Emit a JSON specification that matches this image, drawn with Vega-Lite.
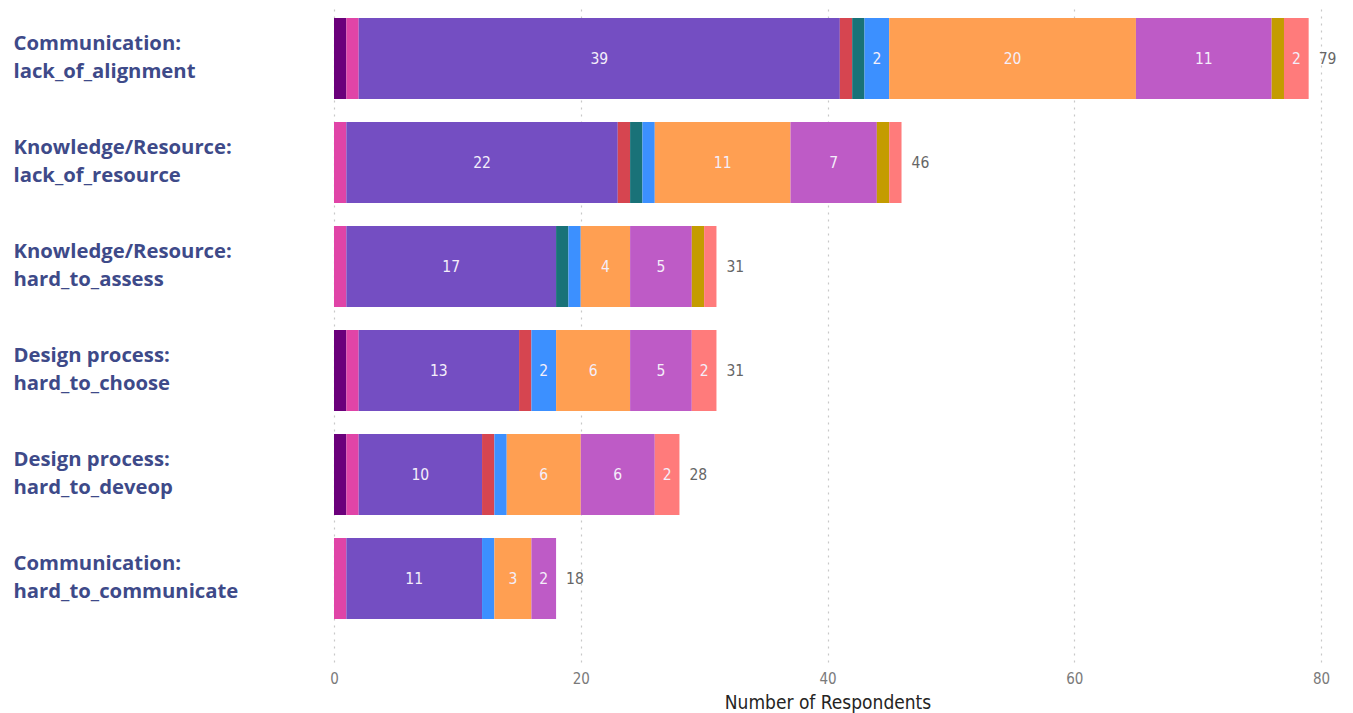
{
  "$schema": "https://vega.github.io/schema/vega-lite/v6.json",
  "width": 987,
  "height": 654,
  "padding": {"left": 13, "top": 8, "right": 5, "bottom": 5},
  "autosize": {"type": "pad"},
  "background": "white",
  "config": {"view": {"stroke": null}},
  "data": {
    "values": [
      {"issue": "Communication: lack_of_alignment", "segment": "A", "n": 1},
      {"issue": "Communication: lack_of_alignment", "segment": "B", "n": 1},
      {"issue": "Communication: lack_of_alignment", "segment": "C", "n": 39},
      {"issue": "Communication: lack_of_alignment", "segment": "D", "n": 1},
      {"issue": "Communication: lack_of_alignment", "segment": "E", "n": 1},
      {"issue": "Communication: lack_of_alignment", "segment": "F", "n": 2},
      {"issue": "Communication: lack_of_alignment", "segment": "G", "n": 20},
      {"issue": "Communication: lack_of_alignment", "segment": "H", "n": 11},
      {"issue": "Communication: lack_of_alignment", "segment": "I", "n": 1},
      {"issue": "Communication: lack_of_alignment", "segment": "J", "n": 2},
      {"issue": "Knowledge/Resource: lack_of_resource", "segment": "B", "n": 1},
      {"issue": "Knowledge/Resource: lack_of_resource", "segment": "C", "n": 22},
      {"issue": "Knowledge/Resource: lack_of_resource", "segment": "D", "n": 1},
      {"issue": "Knowledge/Resource: lack_of_resource", "segment": "E", "n": 1},
      {"issue": "Knowledge/Resource: lack_of_resource", "segment": "F", "n": 1},
      {"issue": "Knowledge/Resource: lack_of_resource", "segment": "G", "n": 11},
      {"issue": "Knowledge/Resource: lack_of_resource", "segment": "H", "n": 7},
      {"issue": "Knowledge/Resource: lack_of_resource", "segment": "I", "n": 1},
      {"issue": "Knowledge/Resource: lack_of_resource", "segment": "J", "n": 1},
      {"issue": "Knowledge/Resource: hard_to_assess", "segment": "B", "n": 1},
      {"issue": "Knowledge/Resource: hard_to_assess", "segment": "C", "n": 17},
      {"issue": "Knowledge/Resource: hard_to_assess", "segment": "E", "n": 1},
      {"issue": "Knowledge/Resource: hard_to_assess", "segment": "F", "n": 1},
      {"issue": "Knowledge/Resource: hard_to_assess", "segment": "G", "n": 4},
      {"issue": "Knowledge/Resource: hard_to_assess", "segment": "H", "n": 5},
      {"issue": "Knowledge/Resource: hard_to_assess", "segment": "I", "n": 1},
      {"issue": "Knowledge/Resource: hard_to_assess", "segment": "J", "n": 1},
      {"issue": "Design process: hard_to_choose", "segment": "A", "n": 1},
      {"issue": "Design process: hard_to_choose", "segment": "B", "n": 1},
      {"issue": "Design process: hard_to_choose", "segment": "C", "n": 13},
      {"issue": "Design process: hard_to_choose", "segment": "D", "n": 1},
      {"issue": "Design process: hard_to_choose", "segment": "F", "n": 2},
      {"issue": "Design process: hard_to_choose", "segment": "G", "n": 6},
      {"issue": "Design process: hard_to_choose", "segment": "H", "n": 5},
      {"issue": "Design process: hard_to_choose", "segment": "J", "n": 2},
      {"issue": "Design process: hard_to_deveop", "segment": "A", "n": 1},
      {"issue": "Design process: hard_to_deveop", "segment": "B", "n": 1},
      {"issue": "Design process: hard_to_deveop", "segment": "C", "n": 10},
      {"issue": "Design process: hard_to_deveop", "segment": "D", "n": 1},
      {"issue": "Design process: hard_to_deveop", "segment": "F", "n": 1},
      {"issue": "Design process: hard_to_deveop", "segment": "G", "n": 6},
      {"issue": "Design process: hard_to_deveop", "segment": "H", "n": 6},
      {"issue": "Design process: hard_to_deveop", "segment": "J", "n": 2},
      {"issue": "Communication: hard_to_communicate", "segment": "B", "n": 1},
      {"issue": "Communication: hard_to_communicate", "segment": "C", "n": 11},
      {"issue": "Communication: hard_to_communicate", "segment": "F", "n": 1},
      {"issue": "Communication: hard_to_communicate", "segment": "G", "n": 3},
      {"issue": "Communication: hard_to_communicate", "segment": "H", "n": 2}
    ]
  },
  "encoding": {
    "y": {
      "field": "issue",
      "type": "nominal",
      "sort": [
        "Communication: lack_of_alignment",
        "Knowledge/Resource: lack_of_resource",
        "Knowledge/Resource: hard_to_assess",
        "Design process: hard_to_choose",
        "Design process: hard_to_deveop",
        "Communication: hard_to_communicate"
      ],
      "scale": {"paddingInner": 0.221, "paddingOuter": 0.2546, "align": 0.19},
      "axis": {
        "title": null,
        "domain": false,
        "ticks": false,
        "tickSize": 0,
        "labelAlign": "left",
        "labelBaseline": "middle",
        "labelOffset": -15,
        "labelPadding": 321,
        "labelLimit": 320,
        "labelFont": "Open Sans",
        "labelFontWeight": 700,
        "labelFontSize": 20.3,
        "labelColor": "#3E4A89",
        "labelLineHeight": 28,
        "labelExpr": "[split(datum.value, ': ')[0] + ':', split(datum.value, ': ')[1]]"
      }
    }
  },
  "layer": [
    {
      "mark": {"type": "bar"},
      "encoding": {
        "x": {
          "field": "n",
          "type": "quantitative",
          "stack": "zero",
          "scale": {"domain": [0, 80], "nice": false},
          "axis": {
            "values": [0, 20, 40, 60, 80],
            "grid": true,
            "gridDash": [2, 5],
            "gridColor": "#C8C8C8",
            "gridWidth": 1.2,
            "domain": false,
            "ticks": false,
            "tickSize": 0,
            "labelFlush": false,
            "labelPadding": 9,
            "labelFont": "DejaVu Sans Condensed",
            "labelFontSize": 15,
            "labelColor": "#7A7A7A",
            "title": "Number of Respondents",
            "titleFont": "DejaVu Sans Condensed",
            "titleFontSize": 19,
            "titleFontWeight": "normal",
            "titleColor": "#252423",
            "titlePadding": 7
          }
        },
        "color": {
          "field": "segment",
          "type": "nominal",
          "legend": null,
          "scale": {
            "domain": ["A", "B", "C", "D", "E", "F", "G", "H", "I", "J"],
            "range": ["#6B007B", "#E044A7", "#744EC2", "#D64550", "#197278", "#3C90FF", "#FF9F52", "#BE5BC6", "#C49C00", "#FF7B7B"]
          }
        },
        "order": {"field": "segment", "sort": "ascending"}
      }
    },
    {
      "transform": [
        {"stack": "n", "groupby": ["issue"], "sort": [{"field": "segment", "order": "ascending"}], "as": ["n0", "n1"]},
        {"filter": "datum.n >= 2"},
        {"calculate": "(datum.n0 + datum.n1) / 2", "as": "mid"}
      ],
      "mark": {"type": "text", "align": "center", "baseline": "middle", "font": "DejaVu Sans Condensed", "fontSize": 15.5, "color": "#F4EEFA"},
      "encoding": {
        "x": {"field": "mid", "type": "quantitative"},
        "text": {"field": "n", "type": "quantitative"}
      }
    },
    {
      "transform": [
        {"aggregate": [{"op": "sum", "field": "n", "as": "total"}], "groupby": ["issue"]}
      ],
      "mark": {"type": "text", "align": "left", "baseline": "middle", "dx": 10, "font": "DejaVu Sans Condensed", "fontSize": 15.5, "color": "#666666"},
      "encoding": {
        "x": {"field": "total", "type": "quantitative"},
        "text": {"field": "total", "type": "quantitative"}
      }
    }
  ]
}
